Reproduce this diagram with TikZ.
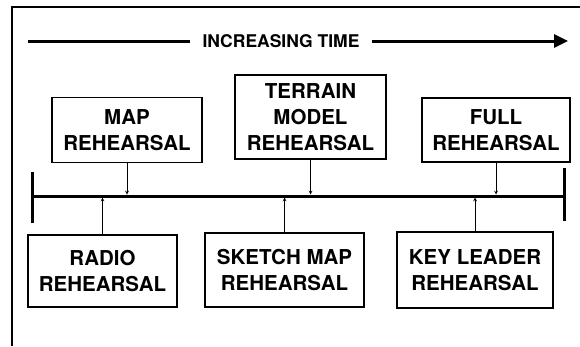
\documentclass[tikz,border=0pt]{standalone}
\usepackage{fontspec}
\setmainfont{TeX Gyre Heros}
\usetikzlibrary{arrows.meta}
\tikzset{
  rehbox/.style={draw, line width=1.5pt, align=center, inner sep=0pt,
    font=\bfseries\fontsize{20.5}{26}\selectfont},
}
\begin{document}
\begin{tikzpicture}[>=stealth, x=1pt, y=-1pt]
			\useasboundingbox (0,0) rectangle (580,346);
			% Frame (left and top edges only)
			\draw[line width=2pt] (12,346) -- (12,7) -- (580,7);
			%--- Time arrow ---
			\node[inner sep=12pt, font=\bfseries\fontsize{17.5}{20}\selectfont] (title) at (281,41) {INCREASING TIME};
			\coordinate (tstart) at (28,41);
			\coordinate (tend) at (568,41);
			\draw[line width=3pt] (tstart) -- (title.west);
			\draw[line width=3pt, -{Triangle[length=14pt,width=13pt]}] (title.east) -- (tend);
			%--- Time line with end ticks ---
			\coordinate (tlL) at (32,196);
			\coordinate (tlR) at (564,196);
			\draw[line width=3pt] (tlL) -- (tlR);
			\draw[line width=3pt] ([yshift=24pt]tlL) -- ([yshift=-27pt]tlL);
			\draw[line width=3pt] ([yshift=28pt]tlR) -- ([yshift=-25pt]tlR);
			%--- Rehearsals above the line ---
			\node[rehbox, minimum width=150pt, minimum height=65pt] (map) at (127,130) {MAP\\REHEARSAL};
			\node[rehbox, minimum width=151pt, minimum height=84pt] (terrain) at (310.5,117) {TERRAIN\\MODEL\\REHEARSAL};
			\node[rehbox, minimum width=148pt, minimum height=64pt] (full) at (496,130) {FULL\\REHEARSAL};
			%--- Rehearsals below the line ---
			\node[rehbox, minimum width=149pt, minimum height=72pt] (radio) at (102.5,271) {RADIO\\REHEARSAL};
			\node[rehbox, minimum width=159pt, minimum height=74pt] (sketch) at (284.5,270) {SKETCH MAP\\REHEARSAL};
			\node[rehbox, minimum width=156pt, minimum height=76pt] (key) at (475,270) {KEY LEADER\\REHEARSAL};
			% Connectors to the time line
			\foreach \b in {map,terrain,full}{
			\draw[->, line width=0.7pt, shorten >=1.5pt] (\b.south) -- (\b.south |- tlL);
			}
			\foreach \b in {radio,sketch,key}{
			\draw[->, line width=0.7pt, shorten >=1.5pt] (\b.north) -- (\b.north |- tlL);
			}
			\end{tikzpicture}
\end{document}
